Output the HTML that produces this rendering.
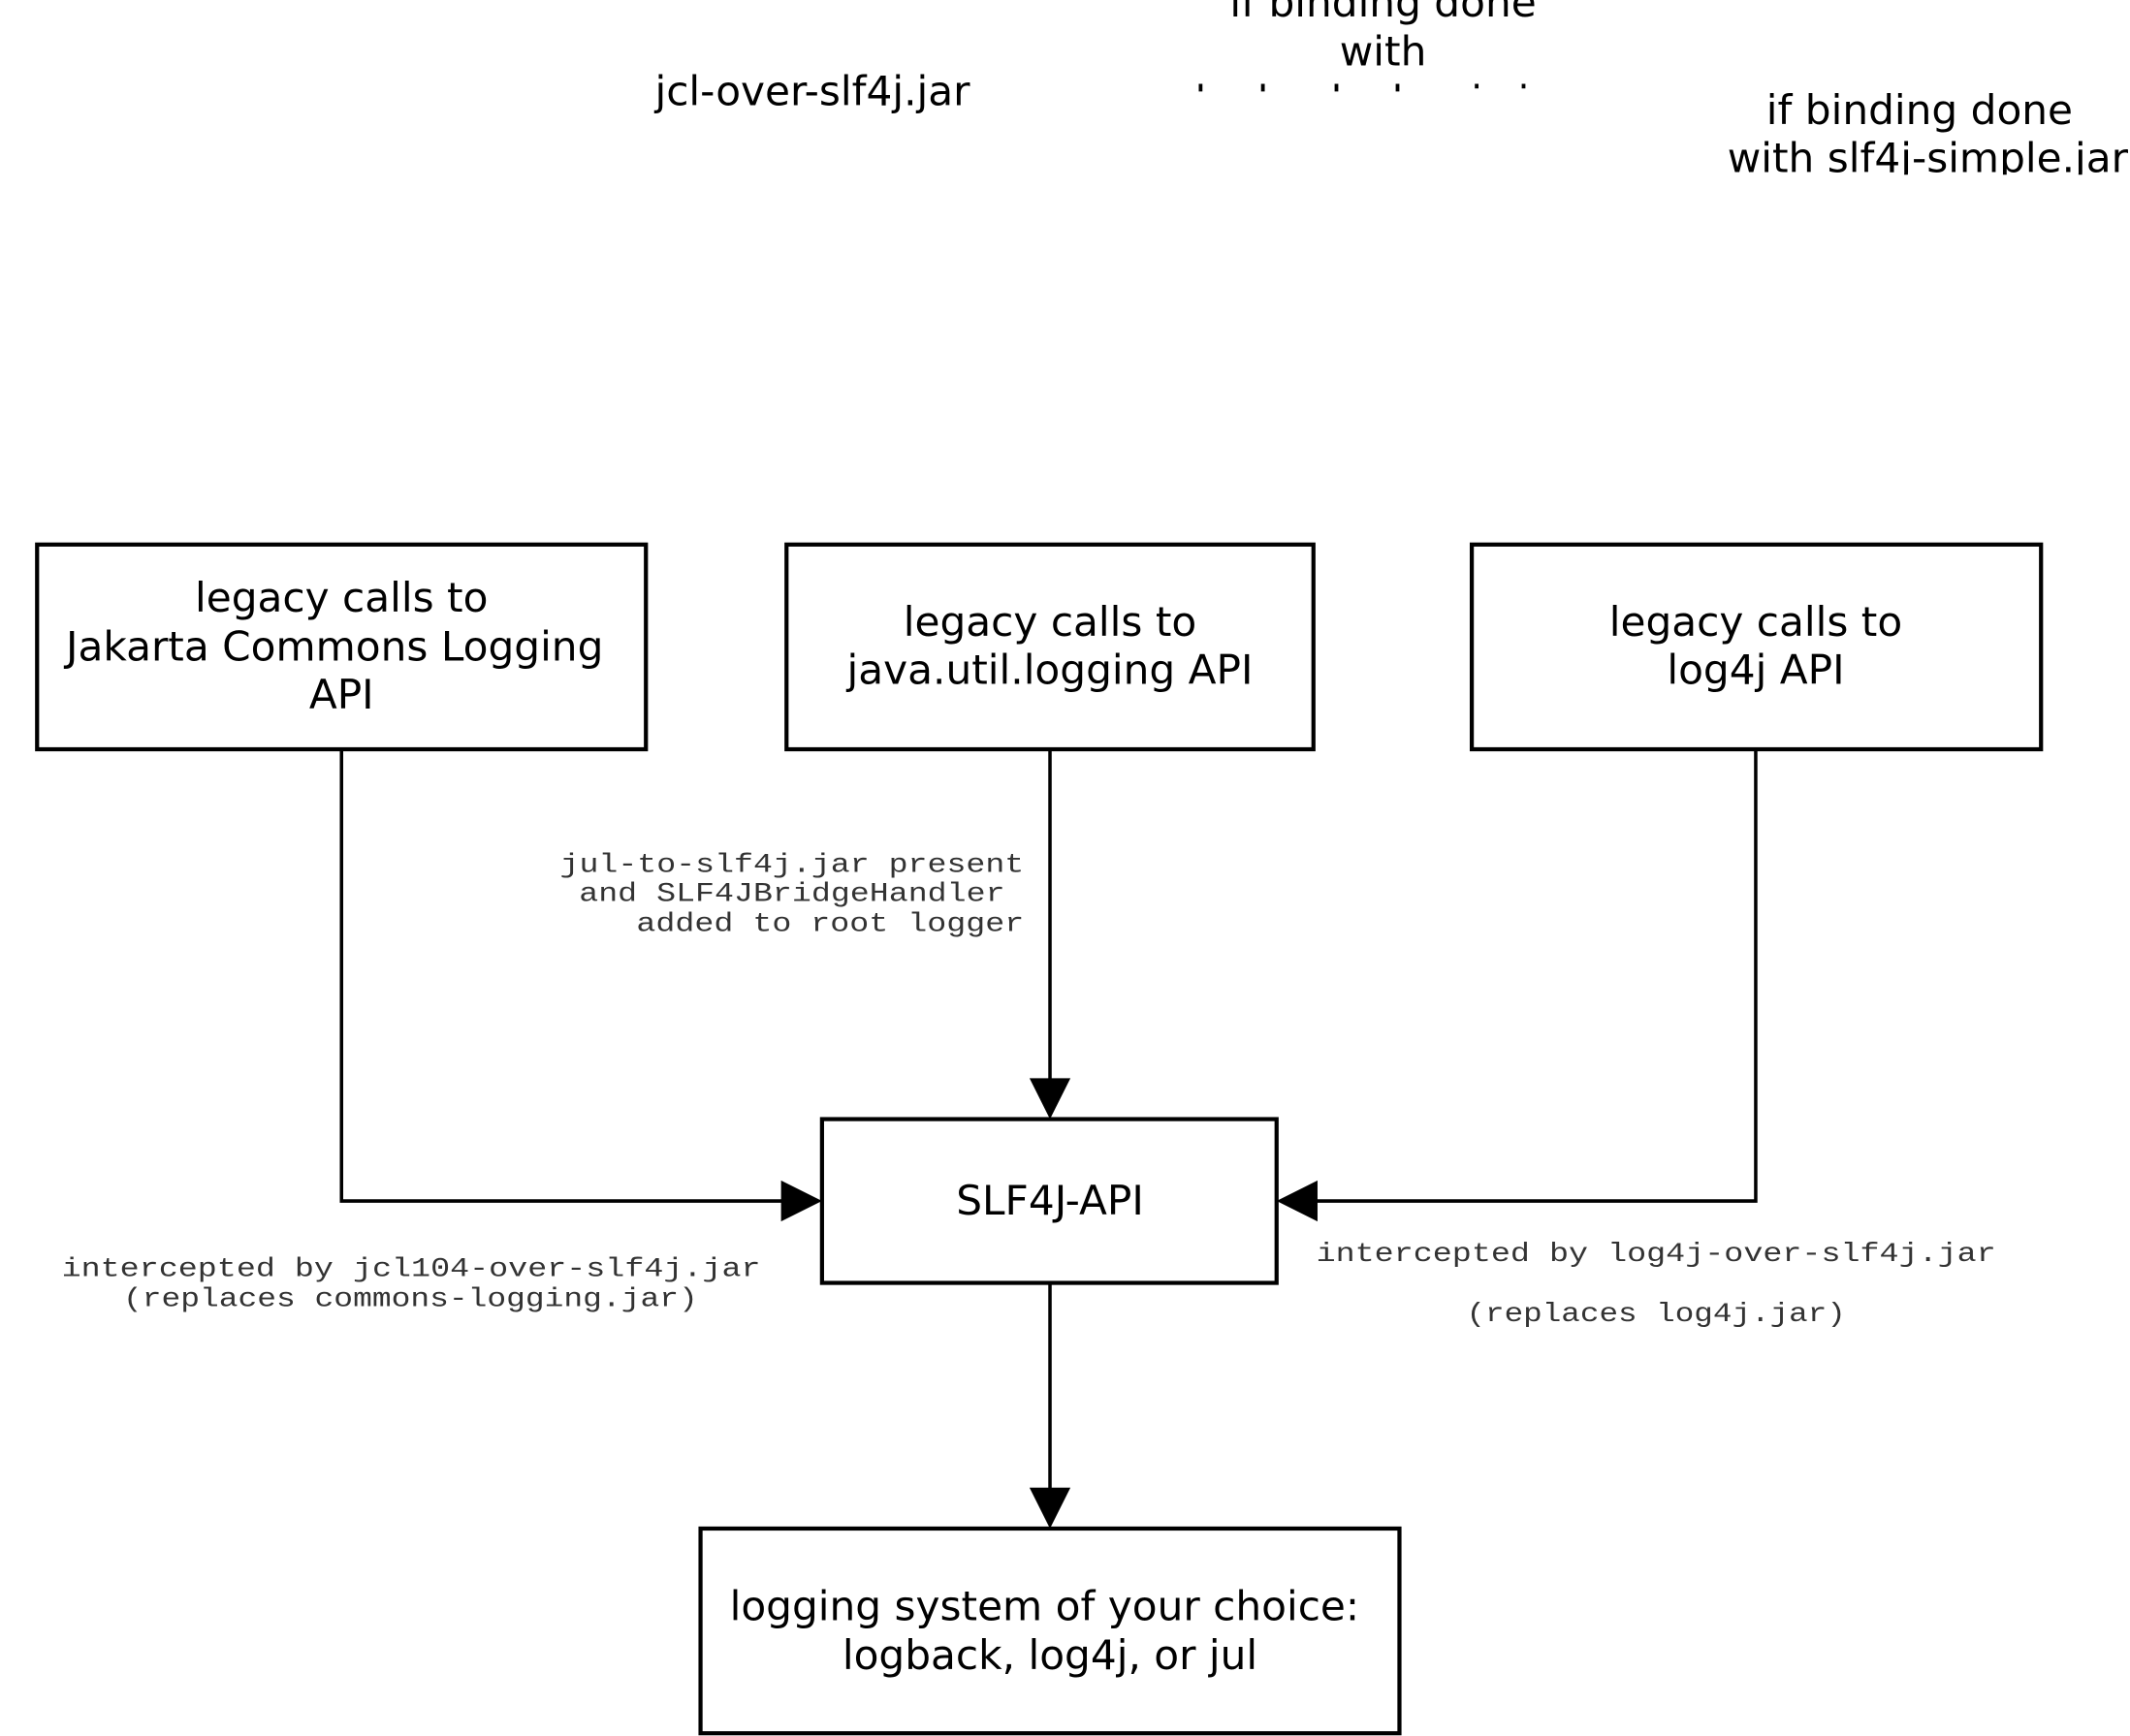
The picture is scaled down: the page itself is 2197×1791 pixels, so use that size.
<!DOCTYPE html>
<html><head><meta charset="utf-8"><style>
html,body{margin:0;padding:0;background:#fff;width:2197px;height:1791px;overflow:hidden}
svg{display:block}
.s{font-family:"DejaVu Sans","Liberation Sans",sans-serif;font-size:30px;fill:#000;text-anchor:middle}
.m{font-family:"Liberation Mono","DejaVu Sans Mono",monospace;font-size:20px;fill:#333}
</style></head><body>
<svg width="2197" height="1791" viewBox="0 0 1560 1272" xmlns="http://www.w3.org/2000/svg">
<defs>
<clipPath id="c1"><rect x="800" y="0" width="500" height="67"/></clipPath>
<clipPath id="c2"><rect x="1200" y="50" width="360" height="78"/></clipPath>
</defs>
<text class="s" x="595" y="77">jcl-over-slf4j.jar</text>
<g clip-path="url(#c1)">
<text class="s" x="1013" y="12">if binding done</text>
<text class="s" x="1013" y="48">with</text>
<text class="s" x="1013" y="84">logback-classic.jar</text>
</g>
<g clip-path="url(#c2)">
<text class="s" x="1406" y="91">if binding done</text>
<text class="s" x="1412" y="126">with slf4j-simple.jar</text>
</g>
<g fill="none" stroke="#000" stroke-width="3">
<rect x="27" y="399" width="446" height="150"/>
<rect x="576" y="399" width="386" height="150"/>
<rect x="1078" y="399" width="417" height="150"/>
<rect x="602" y="820" width="333" height="120"/>
<rect x="513" y="1120" width="512" height="150"/>
</g>
<g fill="none" stroke="#000" stroke-width="2.5">
<polyline points="250,549 250,880 575,880"/>
<line x1="769" y1="549" x2="769" y2="792"/>
<polyline points="1286,549 1286,880 962,880"/>
<line x1="769" y1="940" x2="769" y2="1092"/>
</g>
<g fill="#000">
<polygon points="572,865 602,880 572,895"/>
<polygon points="965,865 935,880 965,895"/>
<polygon points="754,790 769,820 784,790"/>
<polygon points="754,1090 769,1120 784,1090"/>
</g>
<text class="s" x="250" y="448">legacy calls to</text>
<text class="s" x="245" y="484">Jakarta Commons Logging</text>
<text class="s" x="250" y="519">API</text>
<text class="s" x="769" y="466">legacy calls to</text>
<text class="s" x="769" y="501">java.util.logging API</text>
<text class="s" x="1286" y="466">legacy calls to</text>
<text class="s" x="1286" y="501">log4j API</text>
<text class="s" x="769" y="890">SLF4J-API</text>
<text class="s" x="765" y="1187">logging system of your choice:</text>
<text class="s" x="769" y="1223">logback, log4j, or jul</text>
<text class="m" x="410" y="639" textLength="340" lengthAdjust="spacingAndGlyphs">jul-to-slf4j.jar present</text>
<text class="m" x="424" y="660" textLength="312" lengthAdjust="spacingAndGlyphs">and SLF4JBridgeHandler</text>
<text class="m" x="466" y="682" textLength="284" lengthAdjust="spacingAndGlyphs">added to root logger</text>
<text class="m" x="45" y="935" textLength="512" lengthAdjust="spacingAndGlyphs">intercepted by jcl104-over-slf4j.jar</text>
<text class="m" x="90" y="957" textLength="421" lengthAdjust="spacingAndGlyphs">(replaces commons-logging.jar)</text>
<text class="m" x="964" y="924" textLength="498" lengthAdjust="spacingAndGlyphs">intercepted by log4j-over-slf4j.jar</text>
<text class="m" x="1074" y="968" textLength="278" lengthAdjust="spacingAndGlyphs">(replaces log4j.jar)</text>
</svg>
</body></html>
